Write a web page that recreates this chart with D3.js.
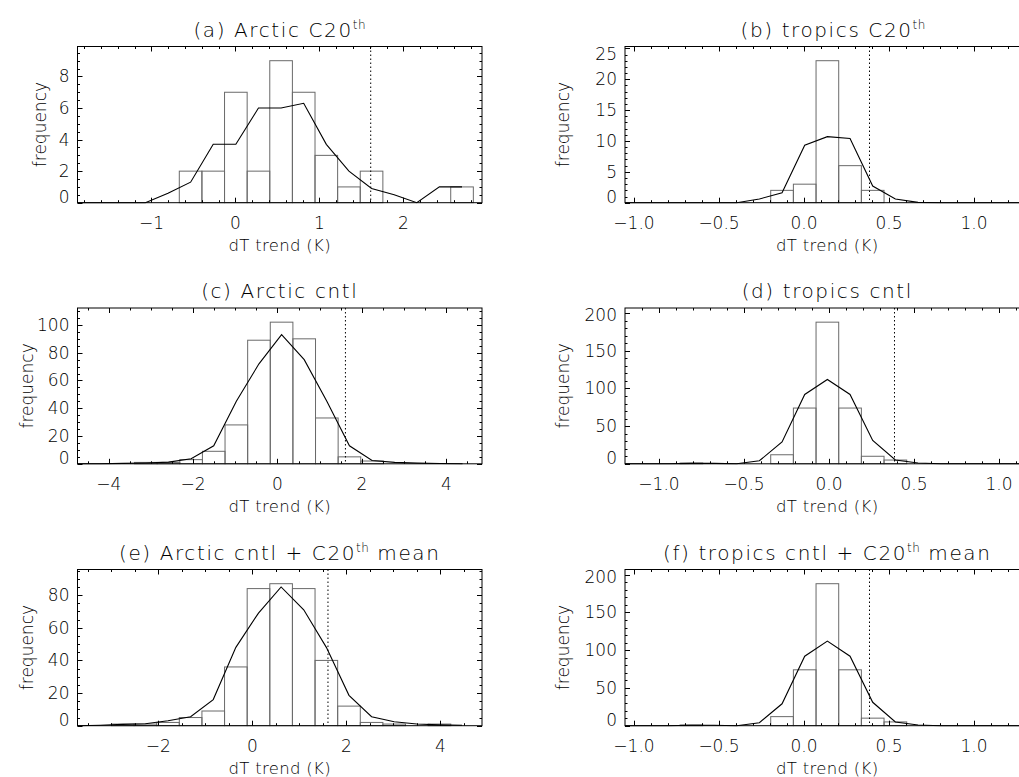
<!DOCTYPE html>
<html><head><meta charset="utf-8">
<script src="https://cdn.jsdelivr.net/npm/d3@7"></script>
<style>
body{margin:0;background:#fff}
svg{display:block}
text{font-family:"DejaVu Sans",sans-serif;font-weight:200;fill:#000}
</style>
</head><body>
<svg id="chart" width="1019" height="777"></svg>
<script>
// ---------------- data ----------------
const titleMain = ["(a) Arctic C20", "(b) tropics C20", "(c) Arctic cntl", "(d) tropics cntl", "(e) Arctic cntl + C20", "(f) tropics cntl + C20"];
const titleSup  = ["th", "th", "", "", "th", "th"];
const titleTail = ["", "", "", "", " mean", " mean"];
const xLabel = "dT trend (K)";
const yLabel = "frequency";

const xDomains = [[-1.881, 2.935], [-1.053, 1.326], [-4.739, 4.846], [-1.200, 1.179], [-3.719, 4.887], [-1.053, 1.326]];
const xTickValues = [[-1, 0, 1, 2], [-1, -0.5, 0, 0.5, 1], [-4, -2, 0, 2, 4], [-1, -0.5, 0, 0.5, 1], [-2, 0, 2, 4], [-1, -0.5, 0, 0.5, 1]];
const xTickLabels = [["\u22121", "0", "1", "2"], ["\u22121.0", "\u22120.5", "0.0", "0.5", "1.0"], ["\u22124", "\u22122", "0", "2", "4"], ["\u22121.0", "\u22120.5", "0.0", "0.5", "1.0"], ["\u22122", "0", "2", "4"], ["\u22121.0", "\u22120.5", "0.0", "0.5", "1.0"]];
const xMinorStep = [0.2, 0.1, 0.5, 0.1, 0.5, 0.1];
const yTickValues = [[0, 2, 4, 6, 8], [0, 5, 10, 15, 20, 25], [0, 20, 40, 60, 80, 100], [0, 50, 100, 150, 200], [0, 20, 40, 60, 80], [0, 50, 100, 150, 200]];
const yMinorStep = [0.5, 1, 5, 10, 5, 10];

// histogram bins: left edge of bin index 0 and bin width (K)
const binStart = [-0.669, -0.196, -2.315, -0.343, -1.553, -0.196];
const binWidth = [0.2693, 0.1333, 0.536, 0.1333, 0.4813, 0.1333];

// bar counts; first entry belongs to bin index barFirst[i]
const barFirst = [0, 0, -2, -4, -3, -4];
const countsA = [2, 2, 7, 2, 9, 7, 3, 1, 2, 0, 0, 0, 1];
const countsB = [2, 3, 23, 6, 2];
const countsC = [1, 1, 3, 9, 28, 89, 102, 90, 33, 5, 2];
const countsD = [1, 0, 0, 0, 12, 74, 188, 74, 10, 5];
const countsE = [1, 1, 2, 5, 9, 36, 84, 87, 84, 40, 12, 2, 1, 0, 1];
const countsF = [1, 0, 0, 0, 12, 74, 188, 74, 10, 5];

// smoothed curve at bin centres; first entry belongs to bin index curveFirst[i]
const curveFirst = [-5, -7, -5, -7, -5, -7];
const curveA = [0, 0, 0, 0, 0.6, 1.3, 3.7, 3.7, 6.0, 6.0, 6.3, 3.7, 2.0, 0.9, 0.5, 0, 1, 1];
const curveB = [0, 0, 0, 0, 0, 0, 0.6, 1.6, 9.3, 10.7, 10.4, 2.7, 0.6, 0.05, 0, 0, 0, 0, 0, 0];
const curveC = [0, 0, 0.3, 0.6, 1.2, 3.6, 13, 45, 72, 93, 75, 45, 13, 2.4, 1, 0.5, 0.2, 0];
const curveD = [0, 0, 0, 0.5, 0.5, 0, 4, 29, 92, 112, 92, 31, 5, 1, 0, 0, 0, 0, 0, 0];
const curveE = [0, 0.3, 0.8, 1.2, 3, 5.5, 16, 48, 69, 85, 71, 48, 18.6, 5.5, 2.4, 1, 0.5, 0.3];
const curveF = [0, 0, 0, 0.5, 0.5, 0, 4, 29, 92, 112, 92, 31, 5, 1, 0, 0, 0, 0, 0, 0];

// observed trend (dotted line)
const observed = [1.61, 0.385, 1.61, 0.385, 1.61, 0.385];

const allCounts = [countsA, countsB, countsC, countsD, countsE, countsF];
const allCurves = [curveA, curveB, curveC, curveD, curveE, curveF];

// ---------------- layout ----------------
const colLeft = [77.5, 625];
const plotW = 404.5;
const rowTop = [46.5, 308, 569.5];
const rowBottom = [202.7, 463.8, 725.7];
const yLabelX = [40, 563, 26.7, 563, 26.7, 563];
const titleDx = [0, 6, 0, 0, 0, 0];

const svg = d3.select("#chart");

for (let p = 0; p < 6; p++) {
  const col = p % 2, row = Math.floor(p / 2);
  const L = colLeft[col], R = L + plotW, T = rowTop[row], B = rowBottom[row];
  const counts = allCounts[p], curve = allCurves[p];
  const yMax = d3.max(counts) * 1.1;
  const x = d3.scaleLinear().domain(xDomains[p]).range([L, R]);
  const y = d3.scaleLinear().domain([0, yMax]).range([B, T]);

  const g = svg.append("g");
  const clipId = "clip" + p;
  g.append("clipPath").attr("id", clipId).append("rect")
    .attr("x", L).attr("y", T - 1).attr("width", plotW).attr("height", B - T + 2);

  // bars
  const bars = counts.map((c, i) => {
    const k = barFirst[p] + i;
    const x0 = binStart[p] + k * binWidth[p];
    return {x0, x1: x0 + binWidth[p], c};
  }).filter(d => d.c > 0);
  g.append("g").attr("clip-path", `url(#${clipId})`).selectAll("rect").data(bars).join("rect")
    .attr("x", d => x(d.x0)).attr("y", d => y(d.c))
    .attr("width", d => x(d.x1) - x(d.x0)).attr("height", d => y(0) - y(d.c))
    .attr("fill", "none").attr("stroke", "#6a6a6a").attr("stroke-width", 1);

  // curve
  const pts = curve.map((v, i) => {
    const k = curveFirst[p] + i;
    return [binStart[p] + (k + 0.5) * binWidth[p], v];
  });
  g.append("path").attr("clip-path", `url(#${clipId})`)
    .attr("d", d3.line().x(d => x(d[0])).y(d => y(d[1]))(pts))
    .attr("fill", "none").attr("stroke", "#000").attr("stroke-width", 1.1);

  // dotted observed line
  g.append("line")
    .attr("x1", x(observed[p])).attr("x2", x(observed[p]))
    .attr("y1", T).attr("y2", B)
    .attr("stroke", "#000").attr("stroke-width", 1).attr("stroke-dasharray", "1.5,2.5");

  // frame
  g.append("rect").attr("x", L).attr("y", T).attr("width", plotW).attr("height", B - T)
    .attr("fill", "none").attr("stroke", "#000").attr("stroke-width", 1);

  // x ticks (bottom & top, inward)
  const xd = xDomains[p];
  const xMinor = d3.range(Math.ceil(xd[0] / xMinorStep[p]), Math.floor(xd[1] / xMinorStep[p]) + 1).map(k => k * xMinorStep[p]);
  const tickG = g.append("g").attr("stroke", "#000").attr("stroke-width", 1);
  xMinor.forEach(v => {
    const isMajor = xTickValues[p].some(t => Math.abs(t - v) < 1e-6);
    const len = isMajor ? 5 : 2.5;
    const xx = Math.round(x(v)) + 0.5;
    tickG.append("line").attr("x1", xx).attr("x2", xx).attr("y1", B).attr("y2", B - len);
    tickG.append("line").attr("x1", xx).attr("x2", xx).attr("y1", T).attr("y2", T + len);
  });
  // y ticks (left & right, inward)
  const yMinor = d3.range(0, Math.floor(yMax / yMinorStep[p]) + 1).map(k => k * yMinorStep[p]);
  yMinor.forEach(v => {
    const isMajor = yTickValues[p].some(t => Math.abs(t - v) < 1e-6);
    const len = isMajor ? 5 : 2.5;
    const yy = Math.round(y(v)) + 0.5;
    tickG.append("line").attr("x1", L).attr("x2", L + len).attr("y1", yy).attr("y2", yy);
    tickG.append("line").attr("x1", R).attr("x2", R - len).attr("y1", yy).attr("y2", yy);
  });

  // x tick labels
  g.append("g").selectAll("text").data(xTickValues[p]).join("text")
    .attr("x", d => x(d)).attr("y", B + 26)
    .attr("text-anchor", "middle").attr("font-size", 17)
    .text((d, i) => xTickLabels[p][i]);
  // y tick labels (kept inside the frame's vertical span)
  g.append("g").selectAll("text").data(yTickValues[p]).join("text")
    .attr("x", L - 8)
    .attr("y", d => Math.max(Math.min(y(d) + 6, B), T + 13))
    .attr("text-anchor", "end").attr("font-size", 17)
    .text(d => d);

  // axis titles
  g.append("text").attr("x", (L + R) / 2).attr("y", B + 48)
    .attr("text-anchor", "middle").attr("font-size", 16.5).attr("letter-spacing", 0.3).text(xLabel);
  g.append("text").attr("transform", `translate(${yLabelX[p]},${(T + B) / 2}) rotate(-90)`)
    .attr("dy", "0.35em").attr("text-anchor", "middle").attr("font-size", 17).text(yLabel);

  // title with superscript
  const tt = g.append("text").attr("x", (L + R) / 2 + titleDx[p]).attr("y", T - 10)
    .attr("text-anchor", "middle").attr("font-size", 20).attr("letter-spacing", 1.6);
  tt.append("tspan").text(titleMain[p]);
  if (titleSup[p]) {
    tt.append("tspan").attr("font-size", 12).attr("dy", -8).attr("letter-spacing", 0.5).text(titleSup[p]);
    if (titleTail[p]) tt.append("tspan").attr("dy", 8).attr("font-size", 20).text(titleTail[p]);
  }
}
</script>
</body></html>
